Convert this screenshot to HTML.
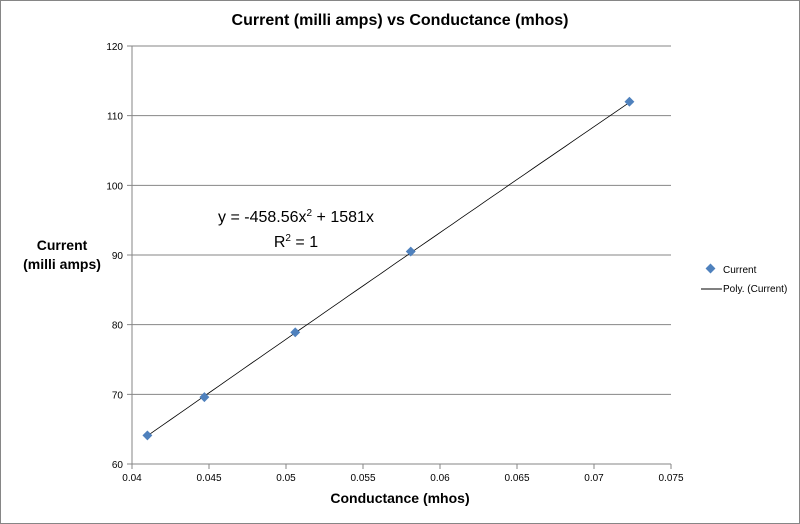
<!DOCTYPE html>
<html><head><meta charset="utf-8"><style>
body{margin:0;background:#fff}
svg{display:block;font-family:"Liberation Sans","DejaVu Sans",sans-serif}
</style></head><body>
<svg id="chart" width="800" height="524" viewBox="0 0 800 524">
<rect x="0.5" y="0.5" width="799" height="523" fill="#fff" stroke="#868686"/>
<text x="400" y="25" text-anchor="middle" font-size="16" font-weight="bold" fill="#000">Current (milli amps) vs Conductance (mhos)</text>
<text x="400" y="503" text-anchor="middle" font-size="14" font-weight="bold">Conductance  (mhos)</text>
<text x="62" y="250" text-anchor="middle" font-size="14" font-weight="bold"><tspan x="62">Current</tspan><tspan x="62" dy="19">(milli amps)</tspan></text>
<g id="grid"></g><g id="axes"></g><g id="trend"></g><g id="points"></g>
<text x="296" y="222" text-anchor="middle" font-size="16">y = -458.56x<tspan font-size="10" dy="-6">2</tspan><tspan dy="6"> + 1581x</tspan></text>
<text x="296" y="247" text-anchor="middle" font-size="16">R<tspan font-size="10" dy="-6">2</tspan><tspan dy="6"> = 1</tspan></text>
<g>
<rect x="707" y="265" width="7" height="7" transform="rotate(45 710.5 268.5)" fill="#4f81bd"/>
<text x="723" y="273" font-size="10">Current</text>
<line x1="701" y1="289" x2="722" y2="289" stroke="#000" stroke-width="1"/>
<text x="723" y="292" font-size="10">Poly. (Current)</text>
</g>
</svg>
<script>
const xTicks=[0.04,0.045,0.05,0.055,0.06,0.065,0.07,0.075];
const xTickLabels=["0.04","0.045","0.05","0.055","0.06","0.065","0.07","0.075"];
const yTicks=[60,70,80,90,100,110,120];
const conductance=[0.0410,0.0447,0.0506,0.0581,0.0723];
const current=[64.1,69.6,78.9,90.5,112.0];
const trendCoef=[-458.56,1581,0];
const NS="http://www.w3.org/2000/svg";
const L=132,R=671,T=46,B=464,xmin=0.04,xmax=0.075,ymin=60,ymax=120;
function sx(v){return L+(v-xmin)/(xmax-xmin)*(R-L);}
function sy(v){return B-(v-ymin)/(ymax-ymin)*(B-T);}
function mk(tag,attrs,parent){const e=document.createElementNS(NS,tag);for(const k in attrs)e.setAttribute(k,attrs[k]);document.getElementById(parent).appendChild(e);return e;}
yTicks.forEach(v=>{
 const g=mk('line',{x1:L-5,x2:R,y1:sy(v),y2:sy(v),stroke:'#868686','stroke-width':1},'grid');
 
 
 const t=mk('text',{x:L-9,y:sy(v)+4,'text-anchor':'end','font-size':10},'axes');
 t.textContent=v;
 
 
});
xTicks.forEach((v,i)=>{
 const g=mk('line',{x1:sx(v),x2:sx(v),y1:B,y2:B+5,stroke:'#868686','stroke-width':1},'axes');
 
 
 const t=mk('text',{x:sx(v),y:B+17,'text-anchor':'middle','font-size':10},'axes');
 t.textContent=xTickLabels[i];
 
 
});
const ya=mk('line',{x1:L,x2:L,y1:T,y2:B,stroke:'#868686','stroke-width':1},'axes');


const xa=mk('line',{x1:L,x2:R,y1:B,y2:B,stroke:'#868686','stroke-width':1},'axes');


const x0=Math.min(...conductance),x1=Math.max(...conductance);
let d='';
for(let i=0;i<=60;i++){const x=x0+(x1-x0)*i/60;const y=trendCoef[0]*x*x+trendCoef[1]*x+trendCoef[2];d+=(i?'L':'M')+sx(x).toFixed(1)+','+sy(y).toFixed(1);}
const tl=mk('path',{d:d,fill:'none',stroke:'#000','stroke-width':0.8},'trend');


conductance.forEach((x,i)=>{
 const cx=sx(x),cy=sy(current[i]);
 const p=mk('rect',{x:cx-3.5,y:cy-3.5,width:7,height:7,fill:'#4f81bd',transform:`rotate(45 ${cx} ${cy})`},'points');
 
 
});
</script>
</body></html>
